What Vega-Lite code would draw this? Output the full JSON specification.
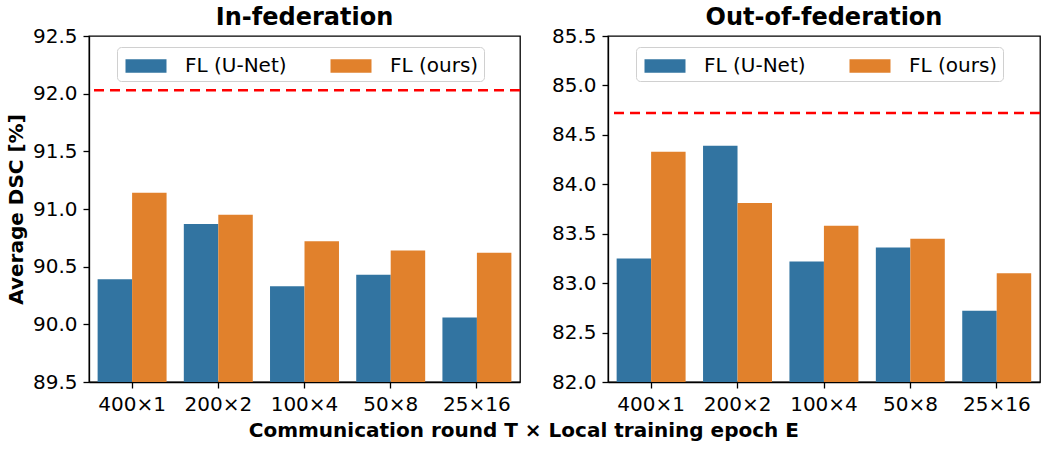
{
  "$schema": "https://vega.github.io/schema/vega-lite/v6.json",
  "padding": {"left": 5, "top": 5, "right": 6, "bottom": 4},
  "background": "white",
  "datasets": {
    "bars": [
      {"panel": "in", "config": "400×1", "method": "FL (U-Net)", "dsc": 90.39},
      {"panel": "in", "config": "400×1", "method": "FL (ours)", "dsc": 91.14},
      {"panel": "in", "config": "200×2", "method": "FL (U-Net)", "dsc": 90.87},
      {"panel": "in", "config": "200×2", "method": "FL (ours)", "dsc": 90.95},
      {"panel": "in", "config": "100×4", "method": "FL (U-Net)", "dsc": 90.33},
      {"panel": "in", "config": "100×4", "method": "FL (ours)", "dsc": 90.72},
      {"panel": "in", "config": "50×8", "method": "FL (U-Net)", "dsc": 90.43},
      {"panel": "in", "config": "50×8", "method": "FL (ours)", "dsc": 90.64},
      {"panel": "in", "config": "25×16", "method": "FL (U-Net)", "dsc": 90.06},
      {"panel": "in", "config": "25×16", "method": "FL (ours)", "dsc": 90.62},
      {"panel": "out", "config": "400×1", "method": "FL (U-Net)", "dsc": 83.25},
      {"panel": "out", "config": "400×1", "method": "FL (ours)", "dsc": 84.33},
      {"panel": "out", "config": "200×2", "method": "FL (U-Net)", "dsc": 84.39},
      {"panel": "out", "config": "200×2", "method": "FL (ours)", "dsc": 83.81},
      {"panel": "out", "config": "100×4", "method": "FL (U-Net)", "dsc": 83.22},
      {"panel": "out", "config": "100×4", "method": "FL (ours)", "dsc": 83.58},
      {"panel": "out", "config": "50×8", "method": "FL (U-Net)", "dsc": 83.36},
      {"panel": "out", "config": "50×8", "method": "FL (ours)", "dsc": 83.45},
      {"panel": "out", "config": "25×16", "method": "FL (U-Net)", "dsc": 82.72},
      {"panel": "out", "config": "25×16", "method": "FL (ours)", "dsc": 83.10}
    ],
    "refs": [
      {"panel": "in", "dsc": 92.03},
      {"panel": "out", "dsc": 84.72}
    ]
  },
  "title": {
    "text": "Communication round T × Local training epoch E",
    "orient": "bottom",
    "anchor": "middle",
    "font": "DejaVu Sans",
    "fontSize": 20,
    "fontWeight": "bold",
    "color": "black",
    "offset": 6
  },
  "spacing": 28,
  "resolve": {"legend": {"color": "independent"}, "scale": {"y": "independent"}},
  "hconcat": [
    {
      "width": 431,
      "height": 346,
      "title": {"text": "In-federation"},
      "layer": [
        {
          "data": {"name": "bars"},
          "transform": [{"filter": "datum.panel === 'in'"}],
          "mark": {"type": "bar", "clip": true},
          "encoding": {
            "x": {"field": "config", "type": "nominal", "sort": ["400×1", "200×2", "100×4", "50×8", "25×16"], "scale": {"paddingInner": 0.2, "paddingOuter": 0.1}, "axis": {"title": null}},
            "xOffset": {"field": "method", "type": "nominal", "sort": ["FL (U-Net)", "FL (ours)"], "scale": {"paddingInner": 0, "paddingOuter": 0}},
            "y": {"field": "dsc", "type": "quantitative", "scale": {"domain": [89.5, 92.5], "zero": false, "nice": false}, "axis": {"title": "Average DSC [%]", "values": [89.5, 90.0, 90.5, 91.0, 91.5, 92.0, 92.5], "format": ".1f"}},
            "color": {"field": "method", "type": "nominal", "scale": {"domain": ["FL (U-Net)", "FL (ours)"], "range": ["#3274a1", "#e1812c"]}, "legend": {"title": null, "orient": "none", "legendX": 28, "legendY": 11, "direction": "horizontal"}}
          }
        },
        {
          "data": {"name": "refs"},
          "transform": [{"filter": "datum.panel === 'in'"}],
          "mark": {"type": "rule", "color": "#ff0000", "strokeWidth": 2.5, "strokeDash": [10, 6]},
          "encoding": {"y": {"field": "dsc", "type": "quantitative"}}
        }
      ]
    },
    {
      "width": 432,
      "height": 346,
      "title": {"text": "Out-of-federation"},
      "layer": [
        {
          "data": {"name": "bars"},
          "transform": [{"filter": "datum.panel === 'out'"}],
          "mark": {"type": "bar", "clip": true},
          "encoding": {
            "x": {"field": "config", "type": "nominal", "sort": ["400×1", "200×2", "100×4", "50×8", "25×16"], "scale": {"paddingInner": 0.2, "paddingOuter": 0.1}, "axis": {"title": null}},
            "xOffset": {"field": "method", "type": "nominal", "sort": ["FL (U-Net)", "FL (ours)"], "scale": {"paddingInner": 0, "paddingOuter": 0}},
            "y": {"field": "dsc", "type": "quantitative", "scale": {"domain": [82.0, 85.5], "zero": false, "nice": false}, "axis": {"title": null, "values": [82.0, 82.5, 83.0, 83.5, 84.0, 84.5, 85.0, 85.5], "format": ".1f"}},
            "color": {"field": "method", "type": "nominal", "scale": {"domain": ["FL (U-Net)", "FL (ours)"], "range": ["#3274a1", "#e1812c"]}, "legend": {"title": null, "orient": "none", "legendX": 28, "legendY": 11, "direction": "horizontal"}}
          }
        },
        {
          "data": {"name": "refs"},
          "transform": [{"filter": "datum.panel === 'out'"}],
          "mark": {"type": "rule", "color": "#ff0000", "strokeWidth": 2.5, "strokeDash": [10, 6]},
          "encoding": {"y": {"field": "dsc", "type": "quantitative"}}
        }
      ]
    }
  ],
  "config": {
    "font": "DejaVu Sans",
    "view": {"stroke": "black", "strokeWidth": 1.3},
    "title": {"font": "DejaVu Sans", "fontSize": 24, "fontWeight": "bold", "color": "black", "offset": -4},
    "axis": {
      "grid": false,
      "labelFont": "DejaVu Sans",
      "labelFontSize": 20,
      "labelColor": "black",
      "labelPadding": 6,
      "tickSize": 6,
      "tickColor": "black",
      "tickWidth": 1.3,
      "domainColor": "black",
      "domainWidth": 1.3,
      "titleFont": "DejaVu Sans",
      "titleFontSize": 20,
      "titleFontWeight": "bold",
      "titleColor": "black",
      "titlePadding": 6
    },
    "axisX": {"labelAngle": 0},
    "legend": {
      "labelFont": "DejaVu Sans",
      "labelFontSize": 20,
      "labelColor": "black",
      "symbolType": "M-1.5,-0.5H1.5V0.5H-1.5Z",
      "symbolSize": 747,
      "symbolStrokeWidth": 0,
      "symbolOpacity": 1,
      "symbolOffset": 10,
      "labelOffset": 25,
      "columnPadding": 40,
      "fillColor": "white",
      "strokeColor": "#d0d0d0",
      "cornerRadius": 4,
      "padding": 5,
      "labelLimit": 300
    }
  }
}
